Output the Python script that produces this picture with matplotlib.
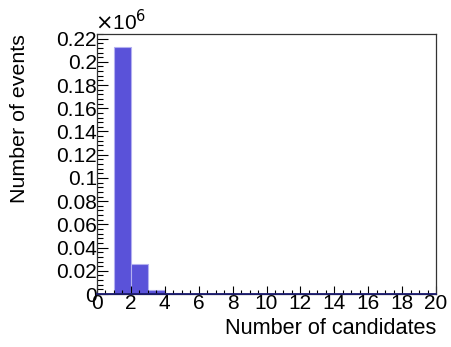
import numpy as np
import matplotlib
matplotlib.use("Agg")
import matplotlib.pyplot as plt
from matplotlib.ticker import MultipleLocator, FormatStrFormatter

plt.rcParams['font.family'] = ['Liberation Sans', 'DejaVu Sans']

# histogram contents, one bin per candidate count (0..19)
bin_edges = np.arange(0, 21)
n_events = [0, 213000, 25800, 3400, 450, 70, 12, 3, 1, 0,
            0, 0, 0, 0, 0, 0, 0, 0, 0, 0]

fill_col = '#5a52d9'
scale = 1e6
fs = 15

fig = plt.figure(figsize=(4.51, 3.47), dpi=100)
ax = fig.add_axes([97 / 451, 1 - 294 / 347, 339 / 451, 260 / 347])

vals = np.array(n_events) / scale
ax.bar(bin_edges[:-1], vals, width=1, align='edge', color=fill_col,
       edgecolor='#b4b0f0', linewidth=0.8)
ax.plot([0, 20], [0, 0], color='#1a1a6e', linewidth=1.3, zorder=3,
        clip_on=False)

ax.set_xlim(0, 20)
ax.set_ylim(0, 0.224)

ax.xaxis.set_major_locator(MultipleLocator(2))
ax.xaxis.set_minor_locator(MultipleLocator(0.5))
ax.yaxis.set_major_locator(MultipleLocator(0.02))
ax.yaxis.set_minor_locator(MultipleLocator(0.004))
ax.yaxis.set_major_formatter(FormatStrFormatter('%g'))
ax.xaxis.set_major_formatter(FormatStrFormatter('%g'))

ax.tick_params(which='both', direction='in', top=False, right=False,
               labelsize=fs, colors='black', width=0.8)
ax.tick_params(axis='y', which='major', length=8, pad=0)
ax.tick_params(axis='y', which='minor', length=4)
ax.tick_params(axis='x', which='major', length=5.5, pad=0)
ax.tick_params(axis='x', which='minor', length=3)

for s in ax.spines.values():
    s.set_linewidth(0.9)
    s.set_color('#333333')

ax.text(-0.005, 1.0, r'$\times$10$^{6}$', transform=ax.transAxes,
        fontsize=fs, ha='left', va='bottom')

fig.text(436 / 451, 1 - 328 / 347, 'Number of candidates', ha='right',
         va='center', fontsize=15.6)
fig.text(20 / 451, 1 - 34 / 347, 'Number of events', ha='center',
         va='top', rotation=90, fontsize=15.4)

fig.savefig('out.png', dpi=100)
